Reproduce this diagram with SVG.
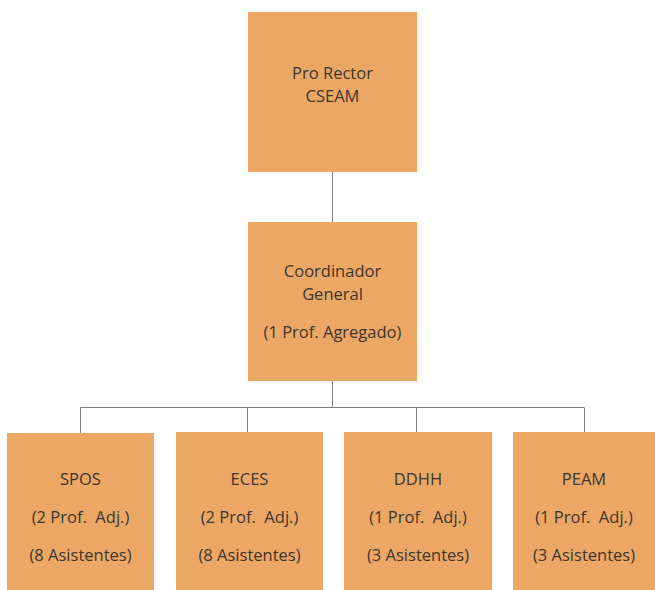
<svg xmlns="http://www.w3.org/2000/svg" width="655" height="590" viewBox="0 0 655 590">
<style>
.box{fill:#eda765;}
.t{font-family:"Open Sans","Noto Sans","Liberation Sans",sans-serif;font-size:16.5px;fill:#3a3630;text-anchor:middle;white-space:pre;}
.c{stroke:#7f7f7f;stroke-width:1;fill:none;}
</style>
<rect width="655" height="590" fill="#ffffff"/>
<g id="connectors">
<line class="c" x1="332.5" y1="172" x2="332.5" y2="222"/>
<line class="c" x1="332.5" y1="381" x2="332.5" y2="408"/>
<line class="c" x1="80.5" y1="407.5" x2="584.5" y2="407.5"/>
<line class="c" x1="80.5" y1="407.5" x2="80.5" y2="433"/>
<line class="c" x1="247.5" y1="407.5" x2="247.5" y2="432"/>
<line class="c" x1="416.5" y1="407.5" x2="416.5" y2="432"/>
<line class="c" x1="584.5" y1="407.5" x2="584.5" y2="432"/>
</g>
<g id="pro-rector">
<rect class="box" x="248" y="12" width="169" height="160"/>
<text class="t" x="332.5" y="79">Pro Rector</text>
<text class="t" x="332.5" y="102">CSEAM</text>
</g>
<g id="coordinador">
<rect class="box" x="248" y="222" width="169" height="159"/>
<text class="t" x="332.5" y="277">Coordinador</text>
<text class="t" x="332.5" y="300">General</text>
<text class="t" x="332.5" y="338">(1 Prof. Agregado)</text>
</g>
<g id="spos">
<rect class="box" x="7" y="433" width="147" height="157"/>
<text class="t" x="80.5" y="485">SPOS</text>
<text class="t" x="80.5" y="523" xml:space="preserve">(2 Prof.  Adj.)</text>
<text class="t" x="80.5" y="561">(8 Asistentes)</text>
</g>
<g id="eces">
<rect class="box" x="176" y="432" width="147" height="158"/>
<text class="t" x="249.5" y="485">ECES</text>
<text class="t" x="249.5" y="523" xml:space="preserve">(2 Prof.  Adj.)</text>
<text class="t" x="249.5" y="561">(8 Asistentes)</text>
</g>
<g id="ddhh">
<rect class="box" x="344" y="432" width="148" height="158"/>
<text class="t" x="418" y="485">DDHH</text>
<text class="t" x="418" y="523" xml:space="preserve">(1 Prof.  Adj.)</text>
<text class="t" x="418" y="561">(3 Asistentes)</text>
</g>
<g id="peam">
<rect class="box" x="513" y="432" width="142" height="158"/>
<text class="t" x="584" y="485">PEAM</text>
<text class="t" x="584" y="523" xml:space="preserve">(1 Prof.  Adj.)</text>
<text class="t" x="584" y="561">(3 Asistentes)</text>
</g>
</svg>
